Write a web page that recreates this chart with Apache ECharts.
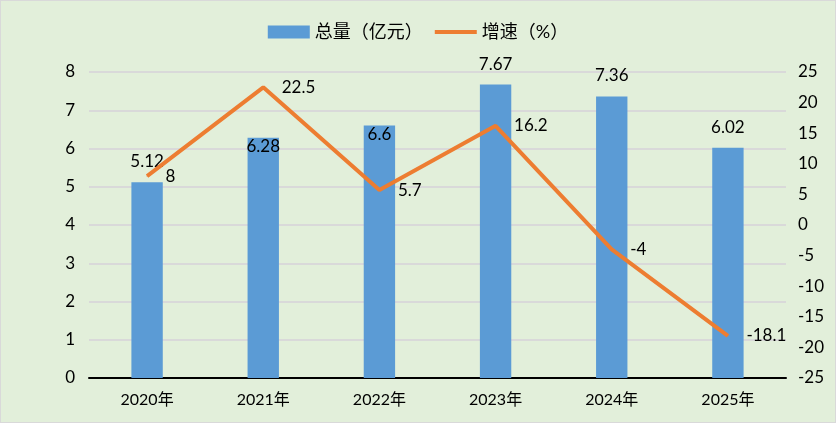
<!DOCTYPE html>
<html>
<head>
<meta charset="utf-8">
<script src="https://cdn.jsdelivr.net/npm/echarts@6/dist/echarts.min.js"></script>
<style>
html,body{margin:0;padding:0;background:#fff;}
#main{width:834px;height:421px;border:1px solid #d9d9d9;background:#e2efda;}
</style>
</head>
<body>
<div id="main"></div>
<script>
// 年份、总量、增速
var years = ['2020年', '2021年', '2022年', '2023年', '2024年', '2025年'];
var totals = [5.12, 6.28, 6.6, 7.67, 7.36, 6.02];
var growth = [8, 22.5, 5.7, 16.2, -4, -18.1];

var FONT = "Lato, 'Noto Sans CJK SC', sans-serif";
// 6.28 和 6.6 的标签压在柱内
var insideIdx = [1, 2];

var chart = echarts.init(document.getElementById('main'));
chart.setOption({
    backgroundColor: '#e2efda',
    textStyle: {fontFamily: FONT},
    animation: false,
    legend: {
        top: 17,
        left: 'center',
        itemWidth: 42,
        itemHeight: 13,
        itemGap: 12,
        textStyle: {fontSize: 18, color: '#000', fontFamily: FONT},
        data: [
            {name: '总量（亿元）', icon: 'rect'},
            {name: '增速（%）', icon: 'path://M0,0 L42,0 L42,4 L0,4 Z'}
        ]
    },
    grid: {left: 88, right: 49, top: 71, bottom: 44},
    xAxis: {
        type: 'category',
        data: years,
        axisLine: {lineStyle: {color: '#000', width: 2}},
        axisTick: {show: false},
        axisLabel: {color: '#000', fontSize: 16, margin: 14, fontFamily: FONT}
    },
    yAxis: [
        {
            type: 'value',
            min: 0, max: 8, interval: 1,
            axisLine: {show: false},
            axisTick: {show: false},
            axisLabel: {color: '#000', fontSize: 17, margin: 14, fontFamily: FONT},
            splitLine: {lineStyle: {color: '#d9d9d9', width: 2}}
        },
        {
            type: 'value',
            min: -25, max: 25, interval: 5,
            axisLine: {show: false},
            axisTick: {show: false},
            axisLabel: {color: '#000', fontSize: 17, margin: 12, fontFamily: FONT},
            splitLine: {show: false}
        }
    ],
    series: [
        {
            name: '总量（亿元）',
            type: 'bar',
            barWidth: '27%',
            itemStyle: {color: '#5b9bd5'},
            label: {show: true, position: 'top', distance: 12, color: '#000', fontSize: 17, fontFamily: FONT},
            data: totals.map(function (v, i) {
                if (insideIdx.indexOf(i) >= 0) {
                    return {value: v, label: {position: 'insideTop', distance: 0}};
                }
                return v;
            })
        },
        {
            name: '增速（%）',
            type: 'line',
            yAxisIndex: 1,
            symbol: 'circle',
            symbolSize: 1,
            lineStyle: {color: '#ed7d31', width: 4},
            itemStyle: {color: '#ed7d31'},
            label: {show: true, position: 'right', distance: 18, color: '#000', fontSize: 17, fontFamily: FONT},
            data: growth
        }
    ]
});
</script>
</body>
</html>
